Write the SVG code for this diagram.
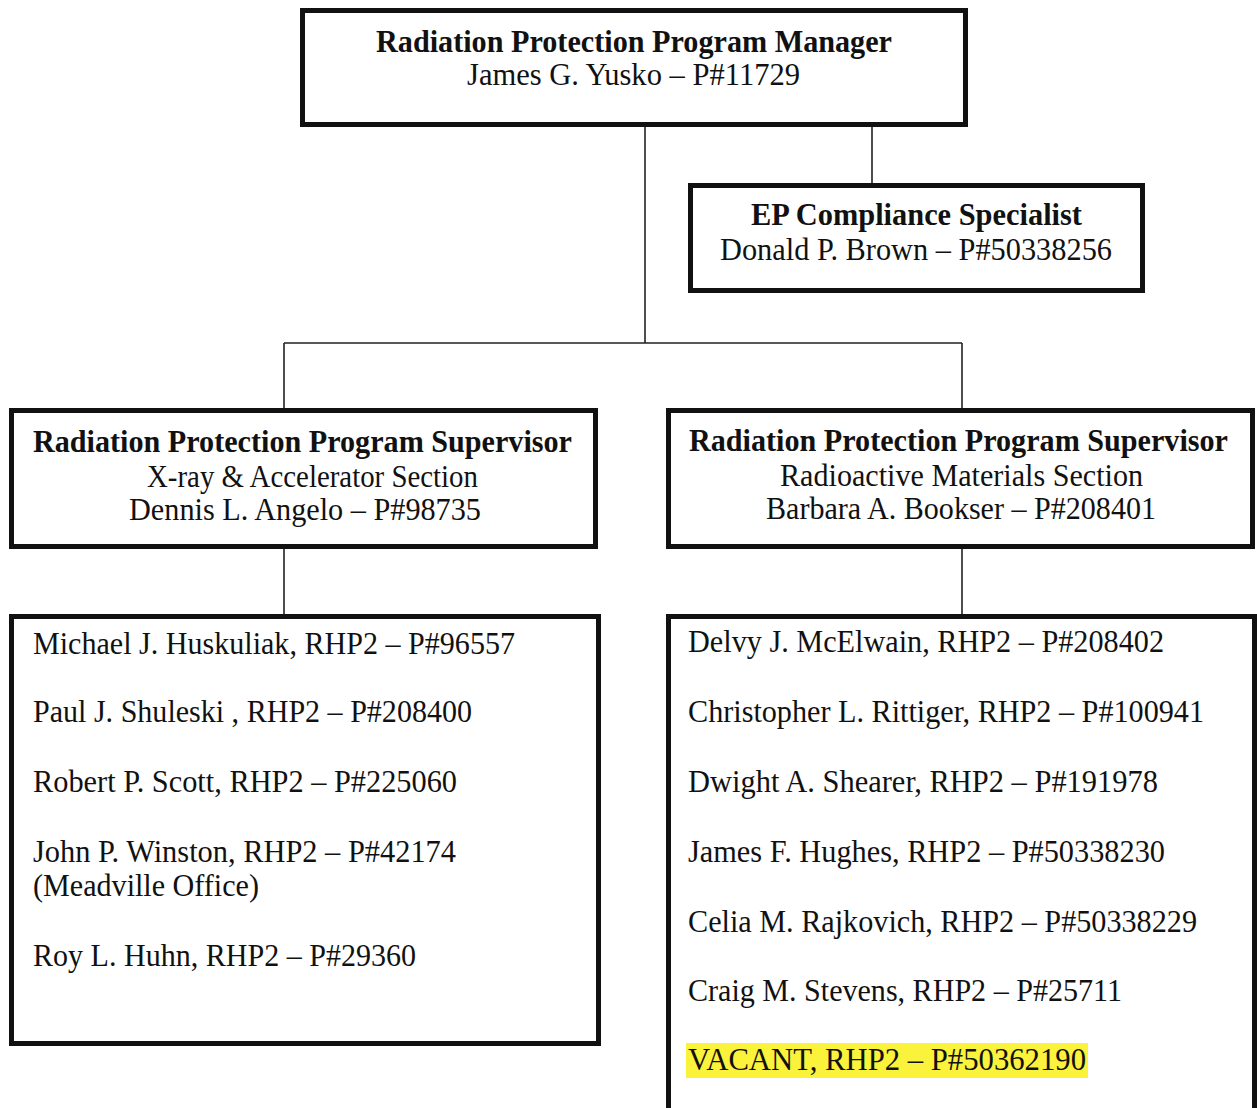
<svg xmlns="http://www.w3.org/2000/svg" width="1257" height="1108" viewBox="0 0 1257 1108">
<style>
.box{fill:#fff;stroke:#111;stroke-width:5}
.ln{fill:none;stroke:#222;stroke-width:1.6}
text{font-family:"Liberation Serif","Times New Roman",serif;font-size:31px;fill:#111}
.b{font-weight:bold}
</style>
<rect width="1257" height="1108" fill="#fff"/>
<g id="connectors">
<path class="ln" d="M645 126V343M872 126V185M284 343H962M284 343V410M962 343V410M284 549V615M962 549V615"/>
</g>
<g id="manager">
<rect class="box" x="302.5" y="10.5" width="663" height="114"/>
<text class="b" x="376" y="52" textLength="516" lengthAdjust="spacingAndGlyphs">Radiation Protection Program Manager</text>
<text x="467" y="85" textLength="333" lengthAdjust="spacingAndGlyphs">James G. Yusko – P#11729</text>
</g>
<g id="ep">
<rect class="box" x="690.5" y="185.5" width="452" height="105"/>
<text class="b" x="751" y="225" textLength="331" lengthAdjust="spacingAndGlyphs">EP Compliance Specialist</text>
<text x="720" y="260" textLength="392" lengthAdjust="spacingAndGlyphs">Donald P. Brown – P#50338256</text>
</g>
<g id="sup-left">
<rect class="box" x="11.5" y="410.5" width="584" height="136"/>
<text class="b" x="33" y="452" textLength="539" lengthAdjust="spacingAndGlyphs">Radiation Protection Program Supervisor</text>
<text x="147" y="487" textLength="331" lengthAdjust="spacingAndGlyphs">X-ray &amp; Accelerator Section</text>
<text x="129" y="520" textLength="352" lengthAdjust="spacingAndGlyphs">Dennis L. Angelo – P#98735</text>
</g>
<g id="sup-right">
<rect class="box" x="668.5" y="410.5" width="584" height="136"/>
<text class="b" x="689" y="451" textLength="539" lengthAdjust="spacingAndGlyphs">Radiation Protection Program Supervisor</text>
<text x="780" y="486" textLength="363" lengthAdjust="spacingAndGlyphs">Radioactive Materials Section</text>
<text x="766" y="519" textLength="390" lengthAdjust="spacingAndGlyphs">Barbara A. Bookser – P#208401</text>
</g>
<g id="staff-left">
<rect class="box" x="11.5" y="616.5" width="587" height="427"/>
<text x="33" y="654" textLength="482" lengthAdjust="spacingAndGlyphs">Michael J. Huskuliak, RHP2 – P#96557</text>
<text x="33" y="722" textLength="439" lengthAdjust="spacingAndGlyphs">Paul J. Shuleski , RHP2 – P#208400</text>
<text x="33" y="792" textLength="424" lengthAdjust="spacingAndGlyphs">Robert P. Scott, RHP2 – P#225060</text>
<text x="33" y="862" textLength="423" lengthAdjust="spacingAndGlyphs">John P. Winston, RHP2 – P#42174</text>
<text x="33" y="896" textLength="226" lengthAdjust="spacingAndGlyphs">(Meadville Office)</text>
<text x="33" y="966" textLength="383" lengthAdjust="spacingAndGlyphs">Roy L. Huhn, RHP2 – P#29360</text>
</g>
<g id="staff-right">
<rect class="box" x="668.5" y="616.5" width="586" height="500"/>
<text x="688" y="652" textLength="476" lengthAdjust="spacingAndGlyphs">Delvy J. McElwain, RHP2 – P#208402</text>
<text x="688" y="722" textLength="516" lengthAdjust="spacingAndGlyphs">Christopher L. Rittiger, RHP2 – P#100941</text>
<text x="688" y="792" textLength="470" lengthAdjust="spacingAndGlyphs">Dwight A. Shearer, RHP2 – P#191978</text>
<text x="688" y="862" textLength="477" lengthAdjust="spacingAndGlyphs">James F. Hughes, RHP2 – P#50338230</text>
<text x="688" y="932" textLength="509" lengthAdjust="spacingAndGlyphs">Celia M. Rajkovich, RHP2 – P#50338229</text>
<text x="688" y="1001" textLength="434" lengthAdjust="spacingAndGlyphs">Craig M. Stevens, RHP2 – P#25711</text>
<rect x="686" y="1043" width="402" height="35" fill="#fbf23c"/>
<text x="688" y="1070" textLength="398" lengthAdjust="spacingAndGlyphs">VACANT, RHP2 – P#50362190</text>
</g>
</svg>
